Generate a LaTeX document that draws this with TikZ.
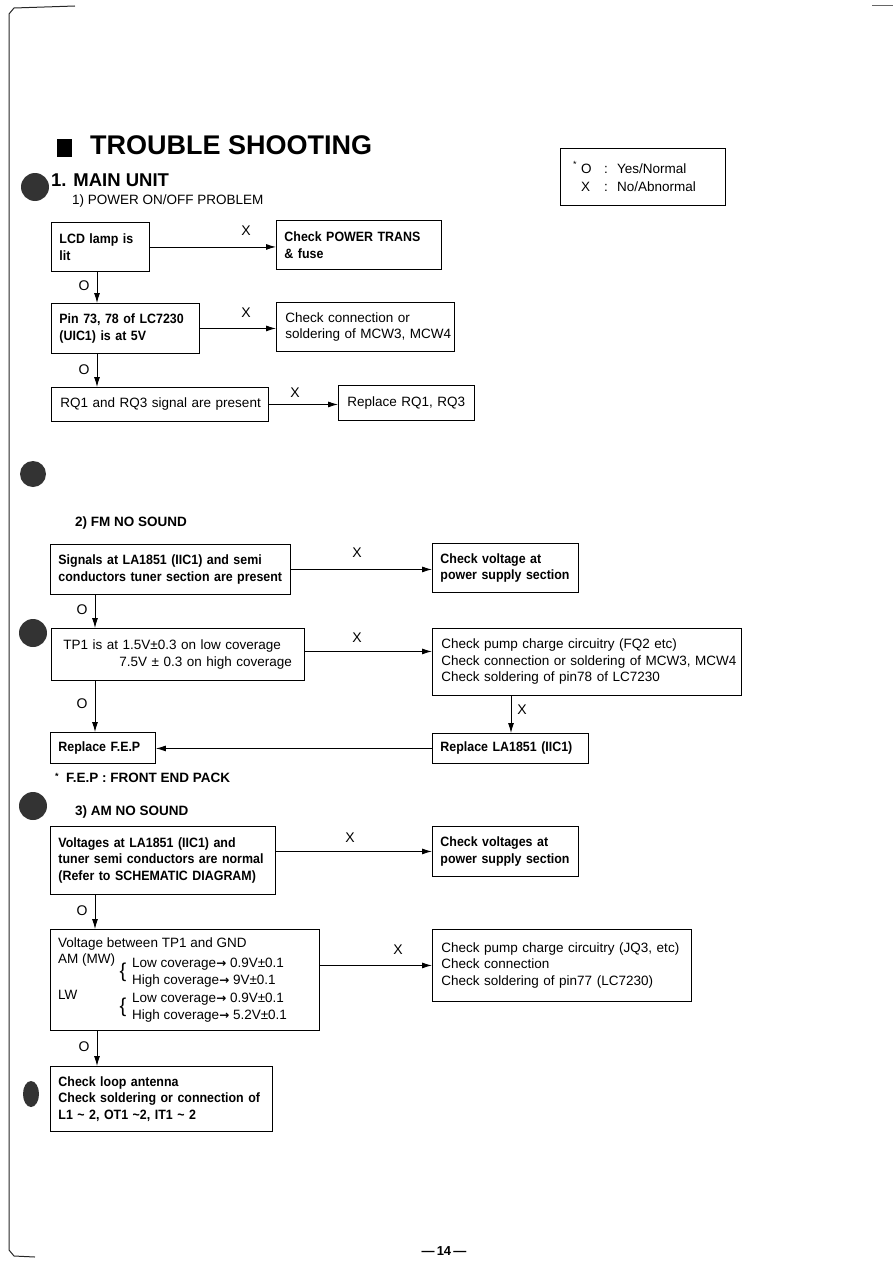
\documentclass[tikz,border=0pt]{standalone}
\usepackage{fontspec}
\setmainfont{Liberation Sans}
\newfontfamily\nb[FakeStretch=0.92]{Liberation Sans}
\newfontfamily\dv{DejaVu Sans}
\usetikzlibrary{arrows.meta}
\newcommand\rf{\fontsize{13.5}{16.5}\selectfont}
\newcommand\ml[1]{\mbox{#1}}
\newcommand\ar{{\dv\bfseries\fontsize{12}{12}\selectfont →}}
\begin{document}
\begin{tikzpicture}[x=1pt,y=-1pt,
  box/.style={draw, line width=0.9pt, inner xsep=8pt, inner ysep=0pt, anchor=north west, align=left, font=\rf},
  bbox/.style={box, font=\rf\nb\bfseries},
  arr/.style={line width=0.9pt, -{Latex[length=10pt,width=6pt]}},
  lab/.style={font=\fontsize{14}{15}\selectfont, inner sep=0pt, anchor=center},
  txt/.style={inner sep=0pt, anchor=base west, font=\rf},
  blob/.style={fill=black!80, draw=none}]
\useasboundingbox (0,0) rectangle (893,1263);
% page edge marks
\draw[line width=1pt, black!85] (75,6) -- (14,8) -- (9,14) -- (9,1250) -- (14,1256) -- (35,1257);
\draw[line width=0.6pt, black!60] (872,5) -- (893,5);
% binding blobs
\fill[blob] (35,187) circle (14);
\fill[blob] (33,474) circle (13);
\fill[blob] (33,633) circle (14);
\fill[blob] (33,806) circle (14);
\fill[blob] (31,1094) ellipse (8 and 13);
% title
\fill (57,139) rectangle (72,157);
\node[txt, font=\fontsize{27}{30}\selectfont\bfseries] (title) at (90,154) {TROUBLE SHOOTING};
\node[txt, font=\fontsize{18.5}{20}\selectfont\bfseries] (sec1) at (51,186) {1. MAIN UNIT};
\node[txt] (sub1) at (72,204) {1) POWER ON/OFF PROBLEM};
% legend
\node[draw, line width=0.8pt, anchor=north west, minimum width=165pt, minimum height=57pt, inner sep=0pt] (legend) at (560,148) {};
\node[txt, font=\fontsize{9}{10}\selectfont] (lgs) at (573,167) {*};
\node[txt] (lgo) at (581,173) {O};
\node[txt] (lgc1) at (604,173) {:};
\node[txt] (lgy) at (617,173) {Yes/Normal};
\node[txt] (lgx) at (581,191) {X};
\node[txt] (lgc2) at (604,191) {:};
\node[txt] (lgn) at (617,191) {No/Abnormal};

% ---------- 1) power on/off
\node[bbox, minimum width=98pt, text width=82pt, minimum height=49pt] (b1) at (51,222) {\ml{LCD lamp is}\\\ml{lit}};
\node[bbox, minimum width=165pt, text width=149pt, minimum height=49pt] (b2) at (276,220) {\ml{Check POWER TRANS}\\\ml{\& fuse}};
\node[bbox, minimum width=148pt, text width=132pt, minimum height=50pt] (b3) at (51,303) {\ml{Pin 73, 78 of LC7230}\\\ml{(UIC1) is at 5V}};
\node[box, minimum width=178pt, minimum height=49pt, inner xsep=9pt, text width=160pt] (b4) at (276,302) {\ml{Check connection or}\\\ml{soldering of MCW3, MCW4}};
\node[box, minimum width=217pt, text width=199pt, minimum height=34pt, inner xsep=9pt] (b5) at (51,387) {\ml{RQ1 and RQ3 signal are present}};
\node[box, minimum width=136pt, text width=118pt, minimum height=35pt, inner xsep=9pt] (b6) at (338,385) {\ml{Replace RQ1, RQ3}};
\coordinate (v1) at (97,0);
\draw[arr] (b1.east) -- (b1.east -| b2.west);
\draw[arr] (b1.south -| v1) -- (b3.north -| v1);
\draw[arr] (b3.east) -- (b3.east -| b4.west);
\draw[arr] (b3.south -| v1) -- (b5.north -| v1);
\draw[arr] (b5.east) -- (b5.east -| b6.west);
\node[lab] (x1) at (246,231) {X};
\node[lab] (o1) at (84,286) {O};
\node[lab] (x2) at (246,313) {X};
\node[lab] (o2) at (84,370) {O};
\node[lab] (x3) at (295,393) {X};

% ---------- 2) FM no sound
\node[txt, font=\rf\bfseries] (sub2) at (75,526) {2) FM NO SOUND};
\node[bbox, minimum width=240pt, text width=224pt, minimum height=50pt] (A) at (50,544) {\ml{Signals at LA1851 (IIC1) and semi}\\\ml{conductors tuner section are present}};
\node[bbox, minimum width=146pt, text width=130pt, minimum height=49pt] (B) at (432,543) {\ml{Check voltage at}\\\ml{power supply section}};
\node[box, minimum width=253pt, text width=229pt, minimum height=52pt, inner xsep=12pt] (C) at (51,628) {\ml{TP1 is at 1.5V±0.3 on low coverage}\\\ml{\hspace*{56pt}7.5V ± 0.3 on high coverage}};
\node[box, minimum width=309pt, text width=291pt, minimum height=67pt, inner xsep=9pt] (D) at (432,628) {\ml{Check pump charge circuitry (FQ2 etc)}\\\ml{Check connection or soldering of MCW3, MCW4}\\\ml{Check soldering of pin78 of LC7230}};
\node[bbox, minimum width=156pt, text width=140pt, minimum height=30pt] (E) at (432,733) {\ml{Replace LA1851 (IIC1)}};
\node[bbox, minimum width=105pt, text width=89pt, minimum height=31pt] (F) at (50,732) {\ml{Replace F.E.P}};
\coordinate (v2) at (95,0);
\coordinate (v3) at (511,0);
\draw[arr] (A.east) -- (A.east -| B.west);
\draw[arr] (A.south -| v2) -- (C.north -| v2);
\draw[arr] (C.east) ++(0,-3) -- ([yshift=3pt]C.east -| D.west);
\draw[arr] (C.south -| v2) -- (F.north -| v2);
\draw[arr] (D.south -| v3) -- (E.north -| v3);
\draw[arr] (E.west) -- (E.west -| F.east);
\node[lab] (x4) at (357,553) {X};
\node[lab] (o3) at (82,610) {O};
\node[lab] (x5) at (357,638) {X};
\node[lab] (o4) at (82,704) {O};
\node[lab] (x6) at (522,710) {X};
\node[txt, font=\rf\bfseries] (fep) at (55,782) {{\fontsize{9}{10}\selectfont\raisebox{3pt}{*}}\ \ F.E.P : FRONT END PACK};

% ---------- 3) AM no sound
\node[txt, font=\rf\bfseries] (sub3) at (75,815) {3) AM NO SOUND};
\node[bbox, minimum width=225pt, text width=209pt, minimum height=68pt] (G) at (50,826) {\ml{Voltages at LA1851 (IIC1) and}\\\ml{tuner semi conductors are normal}\\\ml{(Refer to SCHEMATIC DIAGRAM)}};
\node[bbox, minimum width=146pt, text width=130pt, minimum height=50pt] (H) at (432,826) {\ml{Check voltages at}\\\ml{power supply section}};
\node[draw, line width=0.9pt, anchor=north west, minimum width=269pt, minimum height=101pt, inner sep=0pt] (I) at (50,929) {};
\node[box, minimum width=259pt, text width=241pt, minimum height=72pt, inner xsep=9pt] (J) at (432,929) {\ml{Check pump charge circuitry (JQ3, etc)}\\\ml{Check connection}\\\ml{Check soldering of pin77 (LC7230)}};
\node[bbox, minimum width=222pt, text width=206pt, minimum height=65pt] (K) at (50,1066) {\ml{Check loop antenna}\\\ml{Check soldering or connection of}\\\ml{L1 \textasciitilde{} 2, OT1 \textasciitilde2, IT1 \textasciitilde{} 2}};
% contents of I
\node[txt] (i1) at (58,947) {Voltage between TP1 and GND};
\node[txt] (i2) at (58,963) {AM (MW)};
\node[txt] (i3) at (132,967) {Low coverage\ar\ 0.9V±0.1};
\node[txt] (i4) at (132,984) {High coverage\ar\ 9V±0.1};
\node[txt] (i5) at (58,999) {LW};
\node[txt] (i6) at (132,1002) {Low coverage\ar\ 0.9V±0.1};
\node[txt] (i7) at (132,1019) {High coverage\ar\ 5.2V±0.1};
\node[inner sep=0pt, font=\fontsize{20}{20}\selectfont] (br1) at (123,972) {\{};
\node[inner sep=0pt, font=\fontsize{20}{20}\selectfont] (br2) at (123,1007) {\{};
\coordinate (v4) at (97,0);
\draw[arr] (H.west -| G.east) -- (H.west);
\draw[arr] (G.south -| v2) -- (I.north -| v2);
\draw[arr] (J.west -| I.east) -- (J.west);
\draw[arr] (I.south -| v4) -- (K.north -| v4);
\node[lab] (x7) at (350,838) {X};
\node[lab] (o5) at (82,911) {O};
\node[lab] (x8) at (398,950) {X};
\node[lab] (o6) at (84,1047) {O};

% page number
\node[inner sep=0pt, font=\fontsize{13}{14}\selectfont\bfseries] (page) at (444,1251) {—\,14\,—};
\end{tikzpicture}
\end{document}
